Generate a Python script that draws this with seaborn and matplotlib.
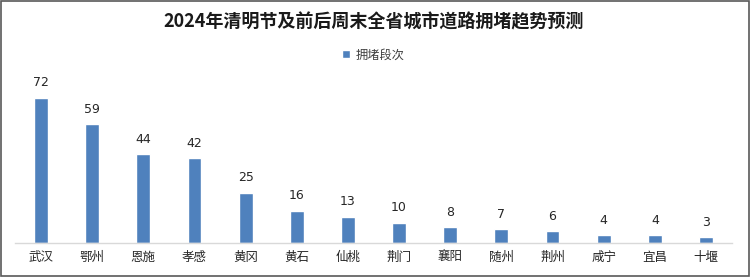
import matplotlib
matplotlib.use("Agg")
import matplotlib.pyplot as plt
import seaborn as sns
import pandas as pd
from matplotlib.patches import Rectangle

cities = ["武汉", "鄂州", "恩施", "孝感", "黄冈", "黄石", "仙桃", "荆门",
          "襄阳", "随州", "荆州", "咸宁", "宜昌", "十堰"]
values = [72, 59, 44, 42, 25, 16, 13, 10, 8, 7, 6, 4, 4, 3]
series_name = "拥堵段次"
title = "2024年清明节及前后周末全省城市道路拥堵趋势预测"

sns.set_theme(style="white")
plt.rcParams['font.family'] = ['Noto Sans CJK SC', 'DejaVu Sans']

df = pd.DataFrame({"城市": cities, "值": values, "系列": series_name})

fig = plt.figure(figsize=(7.5, 2.77), dpi=100)
fig.patch.set_facecolor("white")
ax = fig.add_axes([0.0205, 0.1227, 0.955, 0.583])

sns.barplot(data=df, x="城市", y="值", hue="系列", palette=["#4F81BD"],
            width=0.27, ax=ax, legend=False, saturation=1)

ax.set_xlim(-0.5, len(cities) - 0.5)
ax.set_ylim(0, 80)
for c in ax.containers:
    ax.bar_label(c, labels=[str(v) for v in values], padding=6,
                 fontsize=9, color="#262626", family=['DejaVu Sans'])

ax.set_xlabel("")
ax.set_ylabel("")
ax.set_yticks([])
ax.tick_params(axis="x", length=0, labelsize=9, colors="#262626", pad=6)
for s in ["top", "right", "left"]:
    ax.spines[s].set_visible(False)
ax.spines["bottom"].set_color("#D9D9D9")
ax.spines["bottom"].set_linewidth(1)

fig.text(0.4987, 1 - 22 / 277, title, ha="center", va="center",
         fontsize=13, fontweight="bold", color="#1a1a1a")

handle = Rectangle((0, 0), 1, 1, facecolor="#4F81BD")
fig.legend([handle], [series_name], loc="center",
           bbox_to_anchor=(373 / 750, 1 - 55 / 277), frameon=False,
           fontsize=8.8, handlelength=0.7, handleheight=0.7, handletextpad=0.4,
           labelcolor="#404040")

fig.add_artist(Rectangle((0.001, 0.003), 0.997, 0.994, transform=fig.transFigure,
                         fill=False, edgecolor="#595959", linewidth=1.2))

fig.savefig("out.png", dpi=100, facecolor="white")
